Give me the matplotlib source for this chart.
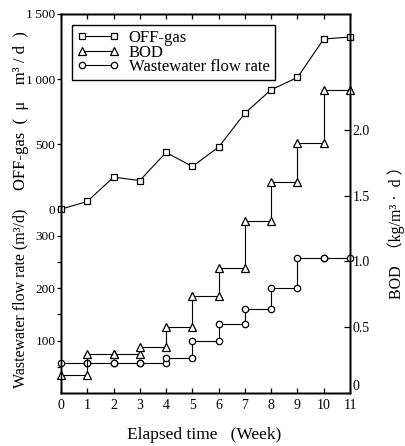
import numpy as np
import matplotlib
matplotlib.use('Agg')
import matplotlib.pyplot as plt
from matplotlib.ticker import FixedLocator, FuncFormatter

plt.rcParams['font.family'] = ['Liberation Serif', 'Noto Sans CJK JP', 'DejaVu Serif']

weeks = np.arange(0, 12)
offgas = [0, 59, 246, 220, 436, 328, 477, 738, 918, 1012, 1308, 1323]
# step levels held over each week interval [i, i+1]
bod_levels = [0.14, 0.30, 0.30, 0.35, 0.50, 0.74, 0.95, 1.31, 1.60, 1.90, 2.30]
flow_levels = [57, 57, 57, 57, 66, 99, 131, 161, 200, 257, 257]
offgas_ticks = [0, 500, 1000, 1500]
flow_ticks = [100, 200, 300]
bod_ticks = [0, 0.5, 1.0, 1.5, 2.0]


def step_points(levels):
    xs, ys = [], []
    for i, v in enumerate(levels):
        xs += [i, i + 1]
        ys += [v, v]
    return xs, ys


fig = plt.figure(figsize=(4.05, 4.46), dpi=100)
ax = fig.add_axes([61/405, 1 - 393/446, 289/405, 379/446])
ax_flow = ax.twinx()
ax_bod = ax.twinx()

mk = dict(color='black', lw=0.8, mfc='white', mec='black', mew=0.9, clip_on=False)

h1, = ax.plot(weeks, offgas, marker='s', ms=4.3, **mk)
ax.set_ylim(-1413, 1500)
ax.set_xlim(0, 11)

xs, ys = step_points(flow_levels)
h3, = ax_flow.plot(xs, ys, marker='o', ms=4.6, **mk)
ax_flow.set_ylim(0, 723)

xs, ys = step_points(bod_levels)
h2, = ax_bod.plot(xs, ys, marker='^', ms=5.2, **mk)
ax_bod.set_ylim(0, 2.88)

for a in (ax, ax_flow, ax_bod):
    for s in a.spines.values():
        s.set_linewidth(1.0)

# x axis
ax.set_xticks(weeks)
ax.tick_params(axis='x', which='both', direction='in', top=True, length=3.5,
               width=0.9, labelsize=10, pad=4)

# off-gas ticks on the left (upper part)
ax.yaxis.set_major_locator(FixedLocator(offgas_ticks))
ax.yaxis.set_major_formatter(FuncFormatter(lambda v, p: f'{int(v):,}'.replace(',', '\u2009')))
ax.tick_params(axis='y', direction='out', length=3, width=0.9, labelsize=9.5, pad=1)

# flow rate ticks on the left (lower part)
ax_flow.yaxis.tick_left()
ax_flow.yaxis.set_major_locator(FixedLocator(flow_ticks))
ax_flow.yaxis.set_minor_locator(FixedLocator([50, 150, 250]))
ax_flow.tick_params(axis='y', which='both', direction='out', length=3, width=0.9,
                    labelsize=9.5, pad=1)

# BOD ticks on the right
ax_bod.yaxis.set_major_locator(FixedLocator(bod_ticks))
ax_bod.yaxis.set_major_formatter(FuncFormatter(lambda v, p: '0' if v == 0 else f'{v:.1f}'))
ax_bod.tick_params(axis='y', direction='in', length=4, width=0.9, labelsize=10, pad=2)
zero_lab = ax_bod.yaxis.get_major_ticks()[0].label2
zero_lab.set_va('bottom')

# axis titles
fig.text(21/405, 1 - 111/446, 'OFF-gas  (  μ    m³ / d  )', rotation=90, ha='center', va='center', fontsize=12)
fig.text(20/405, 1 - 298/446, 'Wastewater flow rate (m³/d)', rotation=90, ha='center', va='center', fontsize=11.5)
fig.text(396/405, 1 - 229/446, 'BOD  （kg/m³ ·  d ）', rotation=90, ha='center', va='center', fontsize=11.5)
fig.text(204/405, 1 - 435/446, 'Elapsed time   (Week)', ha='center', va='center', fontsize=12.5)

leg = ax_bod.legend([h1, h2, h3], ['OFF-gas', 'BOD', 'Wastewater flow rate'],
                    loc='upper left', bbox_to_anchor=(72/405, 1 - 25/446),
                    bbox_transform=fig.transFigure, borderaxespad=0,
                    fontsize=12, numpoints=2, handlelength=2.5, handletextpad=0.6,
                    labelspacing=-0.08, borderpad=0.3, fancybox=False,
                    framealpha=1, edgecolor='black')
leg.get_frame().set_linewidth(1.0)

fig.savefig('out.png', dpi=100)
